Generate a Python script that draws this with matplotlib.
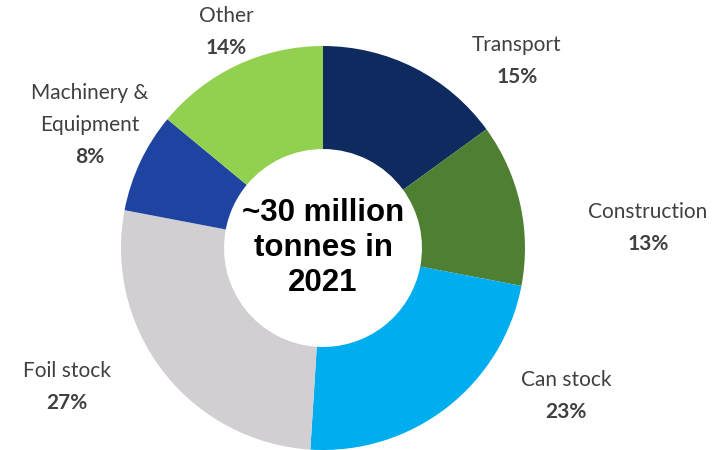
import matplotlib
matplotlib.use("Agg")
import matplotlib.pyplot as plt

# aluminium end-use split, 2021
segments = ["Transport", "Construction", "Can stock", "Foil stock",
            "Machinery &\nEquipment", "Other"]
shares = [15, 13, 23, 27, 8, 14]
colors = ["#0E2A5F", "#4F7F33", "#00AEEF", "#D1CFD1", "#1F43A0", "#92D050"]
center_lines = ["~30 million", "tonnes in", "2021"]

# label anchor positions in pixels (x, y of the first line's centre)
label_px = [(517, 45), (648, 212), (566, 380), (67, 371), (90, 93), (226, 16)]

W, H = 728, 450
cx, cy, R = 323, 248, 202
LINE = 32  # px between label lines
fig = plt.figure(figsize=(W / 100, H / 100), dpi=100)
ax = fig.add_axes([(cx - R) / W, (H - cy - R) / H, 2 * R / W, 2 * R / H])

ax.pie(shares, colors=colors, startangle=90, counterclock=False, radius=1,
       wedgeprops=dict(width=0.51, linewidth=0))
ax.set_xlim(-1, 1); ax.set_ylim(-1, 1)
ax.set_aspect("equal"); ax.axis("off")

for i, line in enumerate(center_lines):
    ax.text(0, (cy - (213 + 35 * i)) / R, line, ha="center", va="center",
            fontsize=22.5, fontweight="bold", color="black",
            family="Liberation Sans")

gray = "#404040"
for name, pct, (px, py) in zip(segments, shares, label_px):
    lines = name.split("\n") + [f"{pct}%"]
    for i, line in enumerate(lines):
        bold = i == len(lines) - 1
        ax.text((px - cx) / R, (cy - (py + LINE * i)) / R, line,
                ha="center", va="center", fontsize=15, color=gray,
                fontweight="bold" if bold else "normal",
                family="Lato", clip_on=False)

fig.savefig("out.png", dpi=100)
